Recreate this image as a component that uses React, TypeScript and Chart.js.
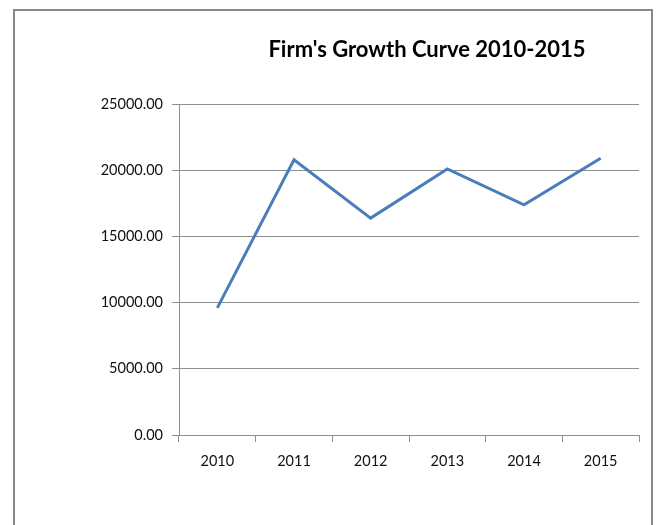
import React, { useEffect, useRef } from "react";
import { Chart, registerables } from "chart.js";

Chart.register(...registerables);

const categories = ["2010", "2011", "2012", "2013", "2014", "2015"];
const growthValues = [9600, 20780, 16380, 20100, 17380, 20900];
const yTicks = [0, 5000, 10000, 15000, 20000, 25000];
const titleText = "Firm's Growth Curve 2010-2015";

export default function App() {
  const canvasRef = useRef<HTMLCanvasElement | null>(null);

  useEffect(() => {
    if (!canvasRef.current) return;
    const chart = new Chart(canvasRef.current, {
      type: "line",
      data: {
        labels: categories,
        datasets: [
          {
            label: "Growth",
            data: growthValues,
            borderColor: "#4a7ebb",
            backgroundColor: "#4a7ebb",
            borderWidth: 3,
            pointRadius: 0,
            pointHoverRadius: 0,
            tension: 0,
            fill: false,
          },
        ],
      },
      options: {
        responsive: false,
        animation: false,
        layout: { padding: { left: 0, right: 20, top: 104, bottom: 0 } },
        plugins: {
          legend: { display: false },
          title: { display: false },
          tooltip: { enabled: false },
        },
        scales: {
          x: {
            type: "category",
            offset: true,
            afterFit: (scale: any) => {
              scale.height = 90;
            },
            grid: {
              display: true,
              offset: true,
              drawOnChartArea: false,
              drawTicks: true,
              tickLength: 7,
              color: "#8e8e8e",
              lineWidth: 1,
            },
            border: { display: true, color: "#8e8e8e", width: 1 },
            ticks: {
              color: "#111111",
              font: { family: "Lato", size: 14.5 },
              padding: 11,
              maxRotation: 0,
            },
          },
          y: {
            min: 0,
            max: 25000,
            afterFit: (scale: any) => {
              scale.width = 179;
            },
            afterBuildTicks: (scale: any) => {
              scale.ticks = yTicks.map((v) => ({ value: v }));
            },
            grid: {
              display: true,
              drawOnChartArea: true,
              drawTicks: true,
              tickLength: 7,
              color: "#8e8e8e",
              lineWidth: 1,
            },
            border: { display: true, color: "#8e8e8e", width: 1 },
            ticks: {
              color: "#111111",
              font: { family: "Lato", size: 14.5 },
              padding: 9,
              callback: (v: any) => Number(v).toFixed(2),
            },
          },
        },
      },
    });
    return () => chart.destroy();
  }, []);

  return (
    <div
      style={{
        position: "absolute",
        left: 0,
        top: 0,
        width: 659,
        height: 525,
        background: "#ffffff",
        overflow: "hidden",
      }}
    >
      <div
        style={{
          position: "absolute",
          left: 13,
          top: 9,
          width: 640,
          height: 530,
          border: "2px solid #878787",
          boxSizing: "border-box",
        }}
      />
      <canvas
        ref={canvasRef}
        width={659}
        height={525}
        style={{ position: "absolute", left: 0, top: 0, width: 659, height: 525 }}
      />
      <div
        style={{
          position: "absolute",
          left: 227,
          top: 36,
          width: 400,
          textAlign: "center",
          fontFamily: "Lato",
          fontWeight: 700,
          fontSize: 22,
          lineHeight: 1.2,
          color: "#000000",
          whiteSpace: "nowrap",
        }}
      >
        {titleText}
      </div>
    </div>
  );
}
